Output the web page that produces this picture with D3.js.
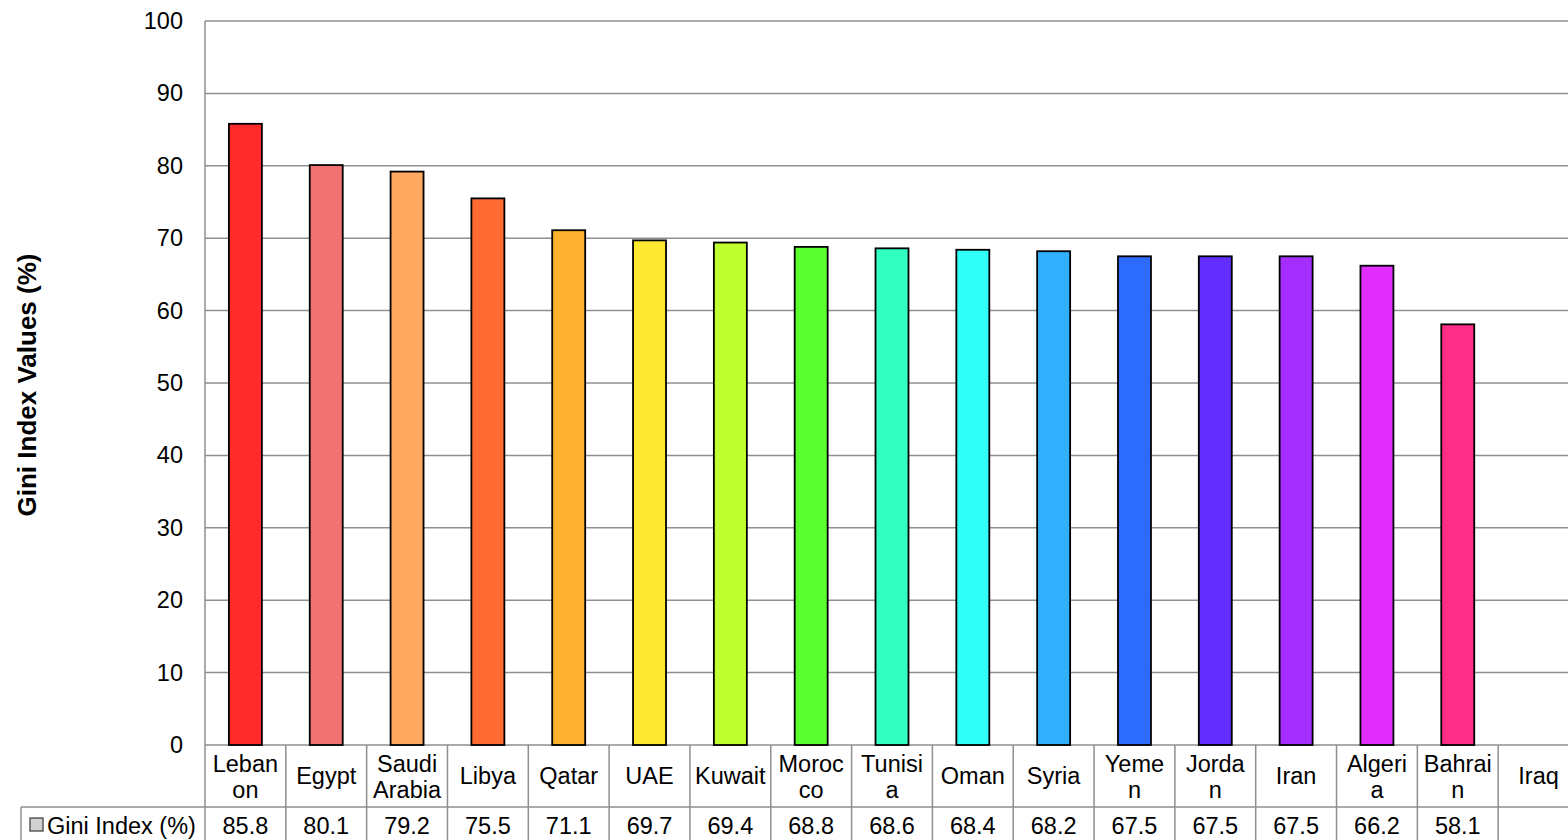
<!DOCTYPE html>
<html>
<head>
<meta charset="utf-8">
<script src="https://cdn.jsdelivr.net/npm/d3@7"></script>
<style>
html,body{margin:0;padding:0;background:#fff;overflow:hidden;}
svg{display:block;font-family:"Liberation Sans",Arial,sans-serif;}
</style>
</head>
<body>
<svg id="chart" width="1568" height="840"></svg>
<script>
const categories = ["Lebanon","Egypt","Saudi Arabia","Libya","Qatar","UAE","Kuwait","Morocco","Tunisia","Oman","Syria","Yemen","Jordan","Iran","Algeria","Bahrain","Iraq"];
const categoryLabels = [["Leban","on"],["Egypt"],["Saudi","Arabia"],["Libya"],["Qatar"],["UAE"],["Kuwait"],["Moroc","co"],["Tunisi","a"],["Oman"],["Syria"],["Yeme","n"],["Jorda","n"],["Iran"],["Algeri","a"],["Bahrai","n"],["Iraq"]];
const giniValues = [85.8,80.1,79.2,75.5,71.1,69.7,69.4,68.8,68.6,68.4,68.2,67.5,67.5,67.5,66.2,58.1,null];
const barColors = ["#FF2A2A","#F07272","#FFA860","#FF6B30","#FFB230","#FFE830","#C0FF30","#5AFF30","#30FFC0","#30FFF8","#30B0FF","#2D6BFF","#622DFF","#A42DFF","#E22DFF","#FF2D85","#cccccc"];
const yTicks = [0,10,20,30,40,50,60,70,80,90,100];
const seriesName = "Gini Index (%)";
const yTitle = "Gini Index Values (%)";

(function(){
const svg = d3.select("#chart");
const pLeft = 205, pRight = 1579, pTop = 21, pBottom = 745;
const rowTop = 807, rowBottom = 845, tableLeft = 21;
const grid = "#8f8f8f";

const x = d3.scaleBand().domain(categories).range([pLeft, pRight]).paddingInner(0.592).paddingOuter(0.296);
const y = d3.scaleLinear().domain([0,100]).range([pBottom, pTop]);
const step = x.step();

// gridlines
svg.append("g").selectAll("line").data(yTicks).join("line")
  .attr("x1", pLeft).attr("x2", pRight)
  .attr("y1", d => y(d)).attr("y2", d => y(d))
  .attr("stroke", grid).attr("stroke-width", 1.5);

// y axis labels via d3 axis
const yAxis = d3.axisLeft(y).tickValues(yTicks).tickSize(0).tickPadding(22);
const gy = svg.append("g").attr("transform", `translate(${pLeft},0)`).call(yAxis);
gy.select(".domain").remove();
gy.selectAll("text").attr("font-size", 23.5).attr("fill", "#000").attr("font-family", "Liberation Sans, Arial, sans-serif");

// bars
svg.append("g").selectAll("rect").data(categories.map((c,i)=>({c, v: giniValues[i], col: barColors[i]})).filter(d => d.v != null))
  .join("rect")
  .attr("x", d => x(d.c)).attr("width", x.bandwidth())
  .attr("y", d => y(d.v)).attr("height", d => y(0) - y(d.v))
  .attr("fill", d => d.col).attr("stroke", "#000").attr("stroke-width", 1.8);

// left axis line
svg.append("line").attr("x1", pLeft).attr("x2", pLeft).attr("y1", pTop).attr("y2", rowBottom)
  .attr("stroke", grid).attr("stroke-width", 1.5);

// table lines
const tg = svg.append("g");
tg.append("line").attr("x1", tableLeft).attr("x2", pRight).attr("y1", rowTop).attr("y2", rowTop).attr("stroke", grid).attr("stroke-width", 1.5);
tg.append("line").attr("x1", tableLeft).attr("x2", tableLeft).attr("y1", rowTop).attr("y2", rowBottom).attr("stroke", grid).attr("stroke-width", 1.5);
tg.selectAll("line.sep").data(categories).join("line").attr("class","sep")
  .attr("x1", d => x(d) - (step - x.bandwidth())/2 + step)
  .attr("x2", d => x(d) - (step - x.bandwidth())/2 + step)
  .attr("y1", pBottom).attr("y2", rowBottom).attr("stroke", grid).attr("stroke-width", 1.5);

// category labels and values
const fs = 23.5;
categories.forEach((c,i) => {
  const cx = x(c) + x.bandwidth()/2;
  const lines = categoryLabels[i];
  const t = tg.append("text").attr("text-anchor","middle").attr("font-size", fs).attr("fill","#000");
  if (lines.length === 1) {
    t.append("tspan").attr("x", cx).attr("y", 784).text(lines[0]);
  } else {
    t.append("tspan").attr("x", cx).attr("y", 772).text(lines[0]);
    t.append("tspan").attr("x", cx).attr("y", 798).text(lines[1]);
  }
  if (giniValues[i] != null) {
    tg.append("text").attr("x", cx).attr("y", 834).attr("text-anchor","middle").attr("font-size", fs).attr("fill","#000").text(giniValues[i].toFixed(1));
  }
});

// legend key + series name
tg.append("rect").attr("x", 30).attr("y", 818).attr("width", 13).attr("height", 13).attr("fill", "#d0d0d0").attr("stroke", "#444").attr("stroke-width", 1.3);
tg.append("text").attr("x", 47).attr("y", 834).attr("font-size", fs).attr("fill","#000").text(seriesName);

// y title
svg.append("text").attr("transform", `translate(36,${(pTop+pBottom)/2 + 2}) rotate(-90)`)
  .attr("text-anchor","middle").attr("font-size", 26).attr("font-weight","bold").attr("fill","#000").text(yTitle);
})();
</script>
</body>
</html>
